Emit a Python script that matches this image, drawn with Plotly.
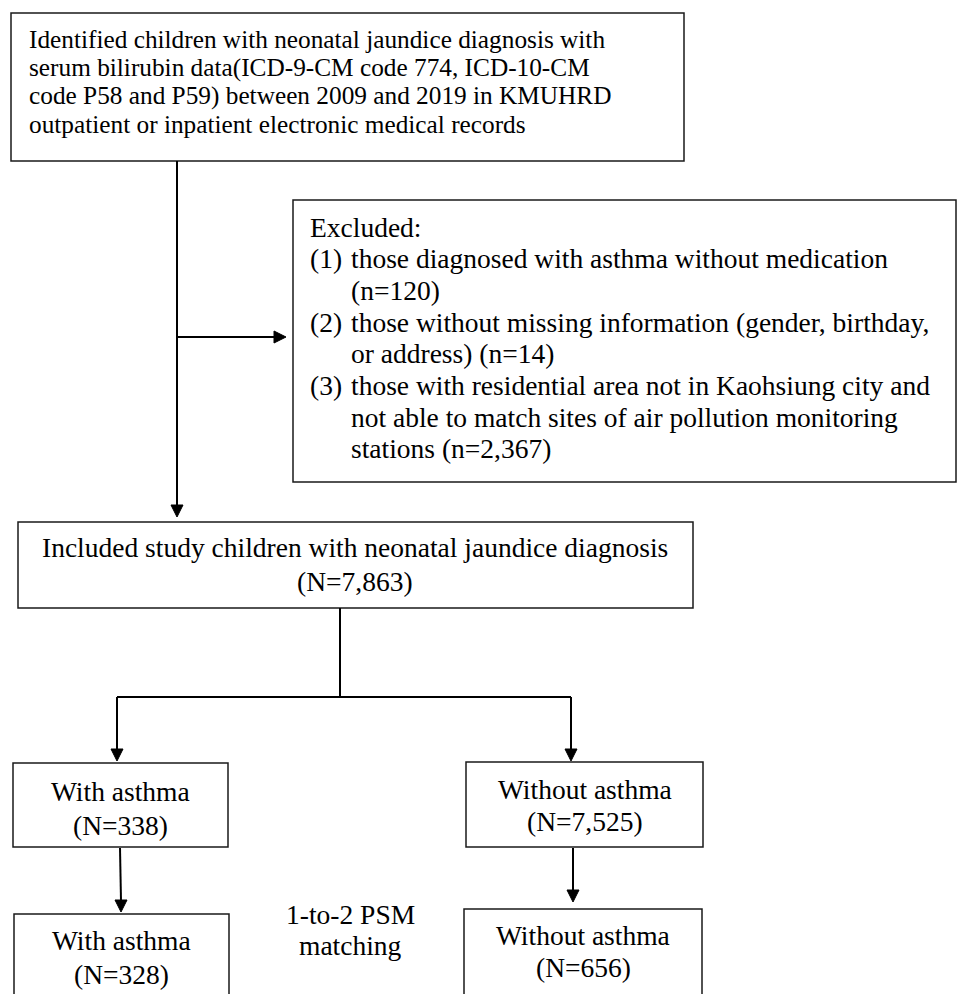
import plotly.graph_objects as go

# ---------------- data (text and counts) ----------------
source_lines = [
    "Identified children with neonatal jaundice diagnosis with",
    "serum bilirubin data(ICD-9-CM code 774, ICD-10-CM",
    "code P58 and P59) between 2009 and 2019 in KMUHRD",
    "outpatient or inpatient electronic medical records",
]
exclusion_reasons = [
    ["those diagnosed with asthma without medication"],
    ["those without missing information (gender, birthday,", "or address)"],
    ["those with residential area not in Kaohsiung city and",
     "not able to match sites of air pollution monitoring", "stations"],
]
exclusion_counts = [120, 14, 2367]
included_label = "Included study children with neonatal jaundice diagnosis"
included_n = 7863
group_labels = ["With asthma", "Without asthma"]
before_match_n = [338, 7525]
after_match_n = [328, 656]
match_label = ["1-to-2 PSM", "matching"]

# ---------------- layout (positions / styles) ----------------
W, H = 958, 994
FONT = "Liberation Serif, Times New Roman, serif"
FS = 27.5
FS_SOURCE = 25.3
BOX_LINE = dict(color="#1a1a1a", width=1.5)
CONN = dict(color="black", width=2)

fig = go.Figure()
shapes = []
annotations = []


def rect(x0, y0, x1, y1):
    shapes.append(dict(type="rect", xref="x", yref="y", x0=x0, y0=y0, x1=x1, y1=y1,
                       line=BOX_LINE, fillcolor="rgba(0,0,0,0)", layer="above"))


def line(x0, y0, x1, y1):
    shapes.append(dict(type="line", xref="x", yref="y", x0=x0, y0=y0, x1=x1, y1=y1,
                       line=CONN, layer="above"))


def head_down(x, ytip, size=12):
    shapes.append(dict(type="path", xref="x", yref="y",
                       path=f"M {x-size/2},{ytip-size} L {x+size/2},{ytip-size} L {x},{ytip} Z",
                       fillcolor="black", line=dict(color="black", width=1), layer="above"))


def head_right(xtip, y, size=12):
    shapes.append(dict(type="path", xref="x", yref="y",
                       path=f"M {xtip-size},{y-size/2} L {xtip-size},{y+size/2} L {xtip},{y} Z",
                       fillcolor="black", line=dict(color="black", width=1), layer="above"))


def text(x, y, s, anchor="center", size=FS):
    annotations.append(dict(x=x, y=y, xref="x", yref="y", text=s, showarrow=False,
                            xanchor=anchor, yanchor="middle", borderpad=0,
                            font=dict(family=FONT, size=size, color="black")))


# Source box
rect(11, 13, 684, 161)
for i, s in enumerate(source_lines):
    text(28, 39 + i * 28.3, s, anchor="left", size=FS_SOURCE)

# Main vertical connector with exclusion branch
line(177, 161, 177, 506)
head_down(177, 517)
line(177, 337, 276, 337)
head_right(286, 337)

# Exclusion box
rect(293, 200, 956, 482)
ex_y = 227
step = 31.7
text(309, ex_y, "Excluded:", anchor="left")
row = 1
for k, (parts, n) in enumerate(zip(exclusion_reasons, exclusion_counts)):
    lines = list(parts)
    tail = f"(n={n:,})"
    if len(lines) == 1:
        lines.append(tail)
    else:
        lines[-1] = lines[-1] + " " + tail
    for j, s in enumerate(lines):
        yy = ex_y + row * step
        if j == 0:
            text(309, yy, f"({k+1})", anchor="left")
        text(350, yy, s, anchor="left")
        row += 1

# Included box
rect(18, 522, 693, 608)
text(355, 547.5, included_label)
text(355, 581, f"(N={included_n:,})")

# Split connector
line(340, 608, 340, 697)
line(117, 697, 571, 697)
line(117, 697, 117, 750)
head_down(117, 761)
line(571, 697, 571, 750)
head_down(571, 761)

# Group boxes (before matching)
left_box = (13, 228)
right_box = (466, 703)
rect(left_box[0], 763, left_box[1], 847)
rect(right_box[0], 762, right_box[1], 847)
cx_l = (left_box[0] + left_box[1]) / 2
cx_r = (right_box[0] + right_box[1]) / 2
text(cx_l, 791, group_labels[0])
text(cx_l, 825, f"(N={before_match_n[0]:,})")
text(cx_r, 789, group_labels[1])
text(cx_r, 821, f"(N={before_match_n[1]:,})")

# Arrows to matched boxes
line(120, 848, 121, 901)
head_down(121, 912)
line(573, 848, 573, 891)
head_down(573, 902)

# Matched boxes (cut off at bottom of the figure)
rect(14, 914, 229, 1010)
rect(464, 909, 702, 1010)
text(121.5, 940, group_labels[0])
text(121.5, 974, f"(N={after_match_n[0]:,})")
text(583, 935, group_labels[1])
text(583, 967, f"(N={after_match_n[1]:,})")

# Matching label
text(350, 914, match_label[0])
text(350, 945, match_label[1])

fig.update_layout(
    width=W, height=H,
    margin=dict(l=0, r=0, t=0, b=0, pad=0),
    paper_bgcolor="white", plot_bgcolor="white",
    xaxis=dict(range=[0, W], visible=False, fixedrange=True),
    yaxis=dict(range=[H, 0], visible=False, fixedrange=True),
    shapes=shapes, annotations=annotations, showlegend=False,
)

fig.write_html(
    "out.html",
    config={"displayModeBar": False},
    post_script="document.body.style.margin='0';document.body.style.overflow='hidden';",
)
